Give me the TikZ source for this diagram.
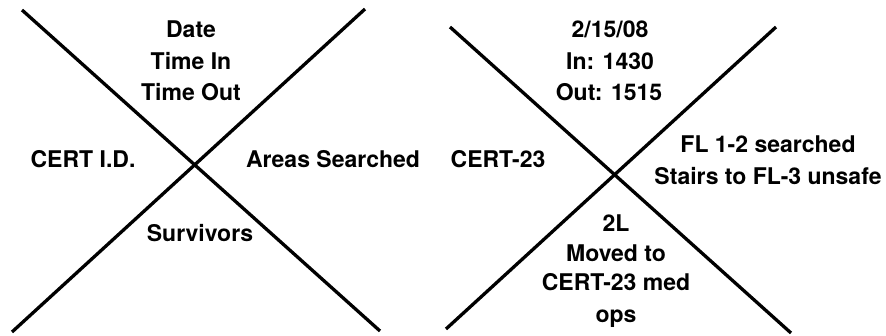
\documentclass[tikz,border=0pt]{standalone}
\usepackage{fontspec}
\setmainfont{TeX Gyre Heros}
\begin{document}
\begin{tikzpicture}[x=1pt,y=-1pt,
  xline/.style={line width=3.3pt,black},
  lbl/.style={font=\bfseries\fontsize{23}{28}\selectfont,anchor=base,inner sep=0pt}]
\useasboundingbox (0,0) rectangle (886,336);
% left X
\coordinate (la) at (22,10);
\coordinate (lb) at (380,331);
\coordinate (lc) at (365,9);
\coordinate (ld) at (12,332);
\draw[xline] (la) -- (lb);
\draw[xline] (lc) -- (ld);
% right X
\coordinate (ra) at (450,27);
\coordinate (rb) at (791,333);
\coordinate (rc) at (776,27);
\coordinate (rd) at (446,329);
\draw[xline] (ra) -- (rb);
\draw[xline] (rc) -- (rd);
% left labels
\node[lbl] (date) at (191,38) {Date};
\node[lbl] (tin) at (191,70) {Time In};
\node[lbl] (tout) at (191,101) {Time Out};
\node[lbl] (cid) at (83,168) {CERT I.D.};
\node[lbl] (areas) at (333,168) {Areas Searched};
\node[lbl] (surv) at (200,242) {Survivors};
% right labels
\node[lbl] (rdate) at (610,38) {2/15/08};
\node[lbl] (rin) at (610,70) {In: 1430};
\node[lbl] (rout) at (609,101) {Out: 1515};
\node[lbl] (rid) at (498,168) {CERT-23};
\node[lbl] (fl) at (768,153) {FL 1-2 searched};
\node[lbl] (st) at (768,185) {Stairs to FL-3 unsafe};
\node[lbl] (s1) at (616,232) {2L};
\node[lbl] (s2) at (616,262) {Moved to};
\node[lbl] (s3) at (616,291) {CERT-23 med};
\node[lbl] (s4) at (616,323) {ops};
\end{tikzpicture}
\end{document}
